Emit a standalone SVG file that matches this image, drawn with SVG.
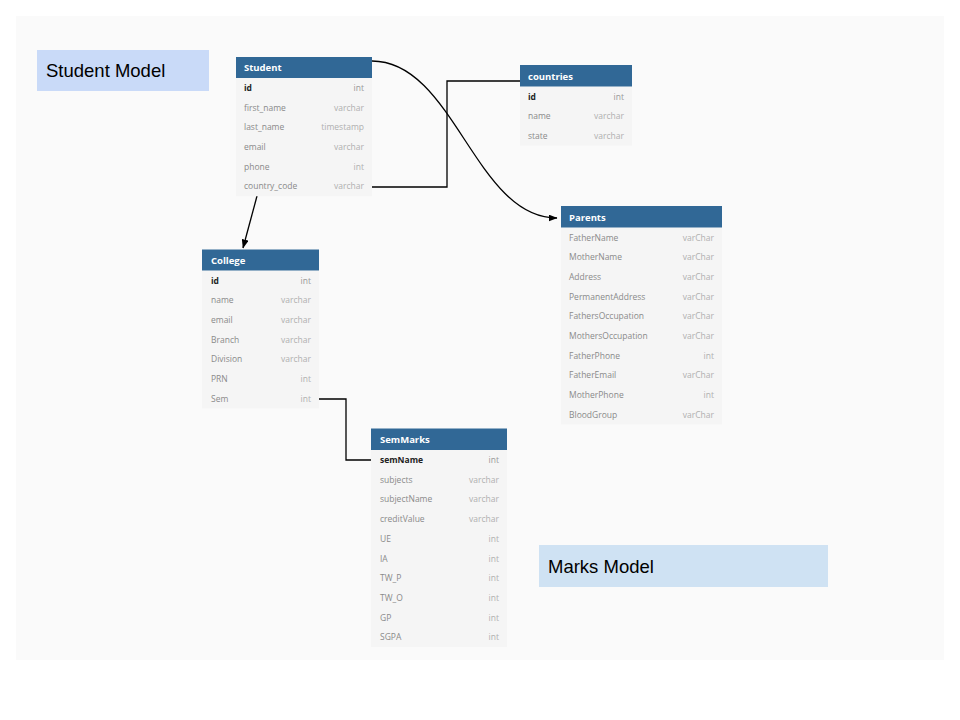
<svg xmlns="http://www.w3.org/2000/svg" width="960" height="720" viewBox="0 0 960 720">
<defs>
<marker id="arr" markerWidth="9" markerHeight="7" refX="8.5" refY="3.5" orient="auto" markerUnits="userSpaceOnUse">
<path d="M0,0 L9,3.5 L0,7 Z" fill="#000"/>
</marker>
<style>
.hd{fill:#316896}
.bd{fill:#f5f5f5}
.ht{font-family:"Open Sans","Noto Sans",sans-serif;font-size:9.5px;font-weight:bold;fill:#ffffff}
.f{font-family:"Open Sans","Noto Sans",sans-serif;font-size:8.5px;fill:#8a8a8a}
.k{font-family:"Open Sans","Noto Sans",sans-serif;font-size:8.5px;font-weight:bold;fill:#222}
.t{font-family:"Open Sans","Noto Sans",sans-serif;font-size:8.5px;fill:#b0b0b0;text-anchor:end}
.kt{font-family:"Open Sans","Noto Sans",sans-serif;font-size:8.5px;fill:#999;text-anchor:end}
.lbl{font-family:"Liberation Sans",Arial,sans-serif;font-size:18.5px;fill:#000}
.ln{fill:none;stroke:#000;stroke-width:1.3}
</style>
</defs>
<rect x="0" y="0" width="960" height="720" fill="#ffffff"/>
<rect x="16" y="16" width="928" height="644" fill="#fafafa"/>

<g id="student-model-label">
<rect x="37" y="50" width="172" height="41" fill="#c9daf8"/>
<text class="lbl" x="46" y="77">Student Model</text>
</g>
<g id="marks-model-label">
<rect x="539" y="545" width="289" height="42" fill="#cfe2f3"/>
<text class="lbl" x="548" y="573">Marks Model</text>
</g>

<g id="connectors">
<path class="ln" d="M372,61 C454,61 475,218 557,218" marker-end="url(#arr)"/>
<path class="ln" d="M372,187 H447 V81 H520"/>
<path class="ln" d="M257,196 L243,248" marker-end="url(#arr)"/>
<path class="ln" d="M315,399 H346 V460 H377"/>
</g>

<g id="student">
<rect class="bd" x="236" y="78" width="136" height="118.2"/>
<rect class="hd" x="236" y="57" width="136" height="21"/>
<text class="ht" x="244" y="71">Student</text>
<text class="k" x="244" y="91">id</text><text class="kt" x="364" y="91">int</text>
<text class="f" x="244" y="110.6">first_name</text><text class="t" x="364" y="110.6">varchar</text>
<text class="f" x="244" y="130.3">last_name</text><text class="t" x="364" y="130.3">timestamp</text>
<text class="f" x="244" y="150">email</text><text class="t" x="364" y="150">varchar</text>
<text class="f" x="244" y="169.7">phone</text><text class="t" x="364" y="169.7">int</text>
<text class="f" x="244" y="189.4">country_code</text><text class="t" x="364" y="189.4">varchar</text>
</g>

<g id="countries">
<rect class="bd" x="520" y="86.5" width="112" height="59.1"/>
<rect class="hd" x="520" y="65" width="112" height="21.5"/>
<text class="ht" x="528" y="79.5">countries</text>
<text class="k" x="528" y="99.5">id</text><text class="kt" x="624" y="99.5">int</text>
<text class="f" x="528" y="119.2">name</text><text class="t" x="624" y="119.2">varchar</text>
<text class="f" x="528" y="138.9">state</text><text class="t" x="624" y="138.9">varchar</text>
</g>

<g id="college">
<rect class="bd" x="202" y="270.5" width="117" height="137.9"/>
<rect class="hd" x="202" y="249.5" width="117" height="21"/>
<text class="ht" x="211" y="263.5">College</text>
<text class="k" x="211" y="283.5">id</text><text class="kt" x="311" y="283.5">int</text>
<text class="f" x="211" y="303.2">name</text><text class="t" x="311" y="303.2">varchar</text>
<text class="f" x="211" y="322.9">email</text><text class="t" x="311" y="322.9">varchar</text>
<text class="f" x="211" y="342.6">Branch</text><text class="t" x="311" y="342.6">varchar</text>
<text class="f" x="211" y="362.3">Division</text><text class="t" x="311" y="362.3">varchar</text>
<text class="f" x="211" y="382">PRN</text><text class="t" x="311" y="382">int</text>
<text class="f" x="211" y="401.7">Sem</text><text class="t" x="311" y="401.7">int</text>
</g>

<g id="parents">
<rect class="bd" x="561" y="227.5" width="161" height="197"/>
<rect class="hd" x="561" y="206" width="161" height="21.5"/>
<text class="ht" x="569" y="220.5">Parents</text>
<text class="f" x="569" y="240.5">FatherName</text><text class="t" x="714" y="240.5">varChar</text>
<text class="f" x="569" y="260.2">MotherName</text><text class="t" x="714" y="260.2">varChar</text>
<text class="f" x="569" y="279.9">Address</text><text class="t" x="714" y="279.9">varChar</text>
<text class="f" x="569" y="299.6">PermanentAddress</text><text class="t" x="714" y="299.6">varChar</text>
<text class="f" x="569" y="319.3">FathersOccupation</text><text class="t" x="714" y="319.3">varChar</text>
<text class="f" x="569" y="339">MothersOccupation</text><text class="t" x="714" y="339">varChar</text>
<text class="f" x="569" y="358.7">FatherPhone</text><text class="t" x="714" y="358.7">int</text>
<text class="f" x="569" y="378.4">FatherEmail</text><text class="t" x="714" y="378.4">varChar</text>
<text class="f" x="569" y="398.1">MotherPhone</text><text class="t" x="714" y="398.1">int</text>
<text class="f" x="569" y="417.8">BloodGroup</text><text class="t" x="714" y="417.8">varChar</text>
</g>

<g id="semmarks">
<rect class="bd" x="371" y="450" width="136" height="197"/>
<rect class="hd" x="371" y="428.5" width="136" height="21.5"/>
<text class="ht" x="380" y="443">SemMarks</text>
<text class="k" x="380" y="463">semName</text><text class="kt" x="499" y="463">int</text>
<text class="f" x="380" y="482.7">subjects</text><text class="t" x="499" y="482.7">varchar</text>
<text class="f" x="380" y="502.4">subjectName</text><text class="t" x="499" y="502.4">varchar</text>
<text class="f" x="380" y="522.1">creditValue</text><text class="t" x="499" y="522.1">varchar</text>
<text class="f" x="380" y="541.8">UE</text><text class="t" x="499" y="541.8">int</text>
<text class="f" x="380" y="561.5">IA</text><text class="t" x="499" y="561.5">int</text>
<text class="f" x="380" y="581.2">TW_P</text><text class="t" x="499" y="581.2">int</text>
<text class="f" x="380" y="600.9">TW_O</text><text class="t" x="499" y="600.9">int</text>
<text class="f" x="380" y="620.6">GP</text><text class="t" x="499" y="620.6">int</text>
<text class="f" x="380" y="640.3">SGPA</text><text class="t" x="499" y="640.3">int</text>
</g>
</svg>
